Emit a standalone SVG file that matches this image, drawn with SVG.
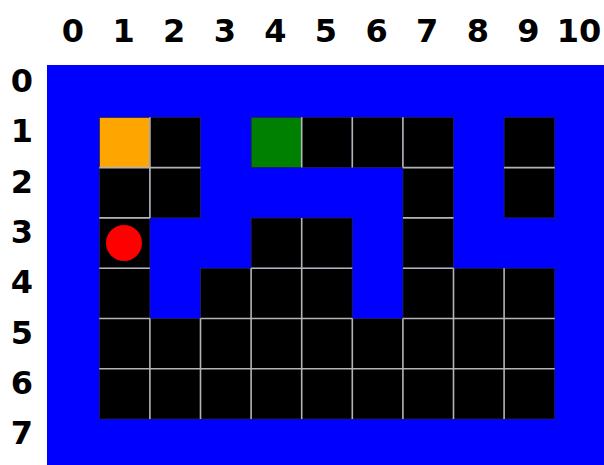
<svg xmlns="http://www.w3.org/2000/svg" width="604" height="465" viewBox="0 0 604 465">
<style>
.lbl{font-family:"DejaVu Sans","Liberation Sans",sans-serif;font-weight:bold;font-size:32px;fill:#000;text-anchor:middle}
.k{fill:#000;stroke:#1c1c6e;stroke-width:1}
.grid{fill:none;stroke:#b4b4b4;stroke-width:1.6}
</style>
<rect x="0" y="0" width="604" height="465" fill="#fff"/>
<g id="col-labels">
<text class="lbl" x="73" y="42">0</text>
<text class="lbl" x="123.6" y="42">1</text>
<text class="lbl" x="174.2" y="42">2</text>
<text class="lbl" x="224.8" y="42">3</text>
<text class="lbl" x="275.4" y="42">4</text>
<text class="lbl" x="326" y="42">5</text>
<text class="lbl" x="376.6" y="42">6</text>
<text class="lbl" x="427.2" y="42">7</text>
<text class="lbl" x="477.8" y="42">8</text>
<text class="lbl" x="528.4" y="42">9</text>
<text class="lbl" x="579" y="42">10</text>
</g>
<g id="row-labels">
<text class="lbl" x="22" y="92">0</text>
<text class="lbl" x="22" y="142.3">1</text>
<text class="lbl" x="22" y="192.6">2</text>
<text class="lbl" x="22" y="242.9">3</text>
<text class="lbl" x="22" y="293.2">4</text>
<text class="lbl" x="22" y="343.5">5</text>
<text class="lbl" x="22" y="393.8">6</text>
<text class="lbl" x="22" y="444.1">7</text>
</g>
<g id="board">
<rect x="47" y="65" width="557" height="400" fill="#0000ff"/>
<g id="cells">
<rect id="start" x="99.3" y="117.3" width="50.6" height="50.3" fill="#ffa500" stroke="#1c1c6e" stroke-width="1"/>
<rect class="k" x="149.9" y="117.3" width="50.6" height="50.3"/>
<rect id="goal" x="251.1" y="117.3" width="50.6" height="50.3" fill="#008000" stroke="#1c1c6e" stroke-width="1"/>
<rect class="k" x="301.7" y="117.3" width="50.6" height="50.3"/>
<rect class="k" x="352.3" y="117.3" width="50.6" height="50.3"/>
<rect class="k" x="402.9" y="117.3" width="50.6" height="50.3"/>
<rect class="k" x="504.1" y="117.3" width="50.6" height="50.3"/>
<rect class="k" x="99.3" y="167.6" width="50.6" height="50.3"/>
<rect class="k" x="149.9" y="167.6" width="50.6" height="50.3"/>
<rect class="k" x="402.9" y="167.6" width="50.6" height="50.3"/>
<rect class="k" x="504.1" y="167.6" width="50.6" height="50.3"/>
<rect class="k" x="99.3" y="217.9" width="50.6" height="50.3"/>
<rect class="k" x="251.1" y="217.9" width="101.2" height="50.3"/>
<rect class="k" x="402.9" y="217.9" width="50.6" height="50.3"/>
<rect class="k" x="99.3" y="268.2" width="50.6" height="50.3"/>
<rect class="k" x="200.5" y="268.2" width="151.8" height="50.3"/>
<rect class="k" x="402.9" y="268.2" width="151.8" height="50.3"/>
<rect class="k" x="99.3" y="318.5" width="455.4" height="100.6"/>
</g>
<path id="grid-lines" class="grid" d="M149.9 117.3V217.9M301.7 117.3V167.6M352.3 117.3V167.6M402.9 117.3V167.6M301.7 217.9V419.1M251.1 268.2V419.1M453.5 268.2V419.1M504.1 268.2V419.1M149.9 318.5V419.1M200.5 318.5V419.1M352.3 318.5V419.1M402.9 318.5V419.1M99.3 167.6H200.5M402.9 167.6H453.5M504.1 167.6H554.7M99.3 217.9H149.9M402.9 217.9H453.5M99.3 268.2H149.9M251.1 268.2H352.3M402.9 268.2H453.5M99.3 318.5H149.9M200.5 318.5H352.3M402.9 318.5H554.7M99.3 368.8H554.7"/>
<circle id="agent" cx="124" cy="243" r="18" fill="#ff0000"/>
</g>
</svg>
